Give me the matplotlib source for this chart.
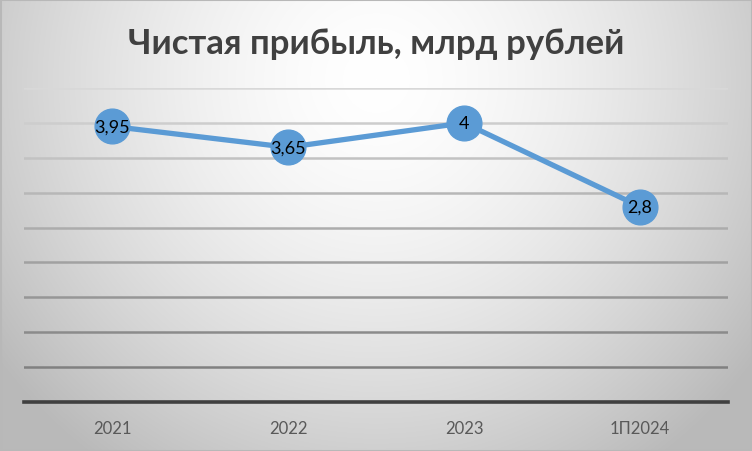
import numpy as np
import matplotlib
matplotlib.use("Agg")
import matplotlib.pyplot as plt

categories = ["2021", "2022", "2023", "1П2024"]
values = [3.95, 3.65, 4.0, 2.8]
labels = ["3,95", "3,65", "4", "2,8"]
title = "Чистая прибыль, млрд рублей"
grid_levels = [0.5, 1.0, 1.5, 2.0, 2.5, 3.0, 3.5, 4.0, 4.5]

plt.rcParams['font.family'] = ['Lato', 'DejaVu Sans']

W, H = 752, 452
fig = plt.figure(figsize=(W / 100, H / 100), dpi=100)

# background radial gradient
bg = fig.add_axes([0, 0, 1, 1], zorder=-10)
yy, xx = np.mgrid[0:H, 0:W]
r = np.sqrt(((xx - 376) / 1.0) ** 2 + ((yy - 80) / 1.0) ** 2)
v = 255 - 60 * np.clip(r / 430, 0, 1.4) ** 1.6
v = np.clip(v, 185, 255) / 255.0
img = np.dstack([v, v, v])
bg.imshow(img, extent=[0, W, H, 0], aspect='auto')
bg.set_xlim(0, W)
bg.set_ylim(H, 0)
bg.axis('off')
bg.add_patch(plt.Rectangle((0.5, 0.5), W - 1, H - 1, fill=False, edgecolor='#b8b8b8', lw=1.5))

# plot axes
left, right = 24 / W, 728 / W
bottom = (H - 403) / H
top = (H - 89) / H
ax = fig.add_axes([left, bottom, right - left, top - bottom])
ax.set_facecolor('none')
ax.set_xlim(-0.5, len(categories) - 0.5)
ax.set_ylim(0, 4.5)
for s in ax.spines.values():
    s.set_visible(False)

n = len(grid_levels)
for i, g in enumerate(grid_levels):
    t = i / (n - 1)
    c = 0x80 + (0xd8 - 0x80) * t
    col = (c / 255, c / 255, c / 255)
    ax.axhline(g, color=col, lw=1.8, zorder=1)
ax.axhline(0, color='#404040', lw=2.6, zorder=2, clip_on=False)

x = np.arange(len(categories))
ax.plot(x, values, color='#5b9bd5', lw=3.8, marker='o', markersize=25,
        markerfacecolor='#5b9bd5', markeredgecolor='#5b9bd5', zorder=3, clip_on=False)
for xi, yi, lb in zip(x, values, labels):
    ax.text(xi, yi, lb, ha='center', va='center', fontsize=13, color='black', zorder=4)

ax.set_yticks([])
ax.set_xticks(x)
ax.set_xticklabels(categories, fontsize=12, color='#595959')
ax.tick_params(axis='x', length=0, pad=13)

fig.text(0.5, 1 - 44 / H, title, ha='center', va='center', fontsize=25,
         fontweight='bold', color='#404040')

fig.savefig('out.png', dpi=100)
